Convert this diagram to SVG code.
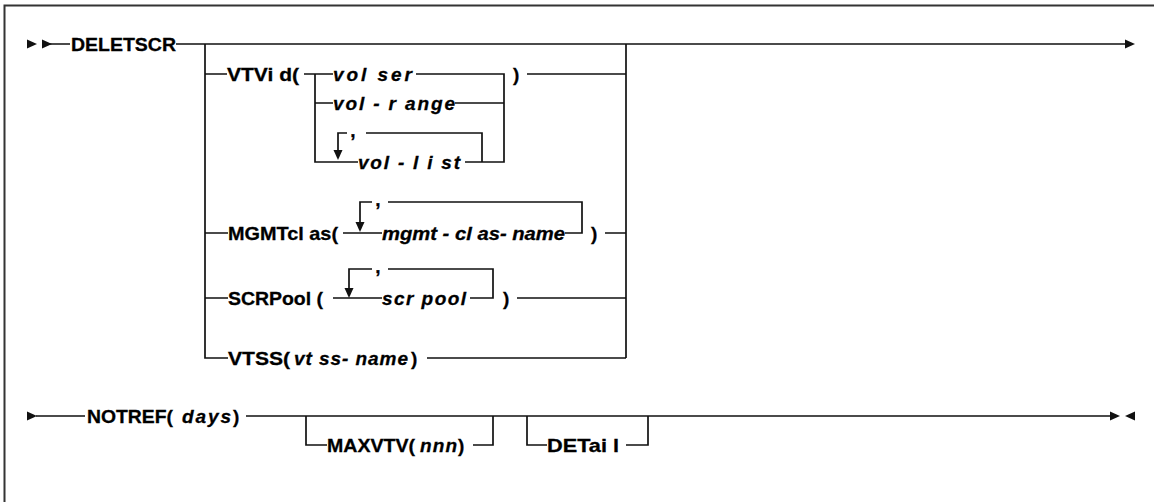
<svg xmlns="http://www.w3.org/2000/svg" xmlns:xlink="http://www.w3.org/1999/xlink" width="1154" height="502" viewBox="0 0 1154 502">
<style>
.ln{fill:none;stroke:#111;stroke-width:1.7}
.bd{fill:none;stroke:#333;stroke-width:2}
.ah{fill:#111;stroke:none}
text{font-family:"Liberation Sans",Arial,sans-serif;font-size:19px;font-weight:bold;fill:#000;stroke:#000;stroke-width:0.3}
.it{font-style:italic}
.cm{text-anchor:middle}
</style>
<defs>
<polygon id="ar" class="ah" points="0,-4.5 10,0 0,4.5"/>
</defs>
<rect width="1154" height="502" fill="#fff"/>
<path class="bd" d="M4.5,510 V5.5 H1160"/>
<g id="connectors">
<use xlink:href="#ar" transform="translate(27,44)"/>
<use xlink:href="#ar" transform="translate(42,44)"/>
<path class="ln" d="M50,44 H70 M176,44 H1126"/>
<use xlink:href="#ar" transform="translate(1125,44)"/>
<path class="ln" d="M205,44 V358 H228 M205,74 H227 M205,233 H228 M205,298 H228"/>
<path class="ln" d="M626,44 V358 M527,74 H626 M605,233 H626 M517,298 H626 M427,358 H626"/>
<path class="ln" d="M304,74 H333 M315,74 V162 H358 M315,103 H333 M416,74 H504 V162 H465 M455,103 H504"/>
<path class="ln" d="M338,152 V133 H347 M366,133 H482 V162"/>
<use xlink:href="#ar" transform="translate(338,150) rotate(90)"/>
<path class="ln" d="M343,233 H382 M360,224 V202 H372 M388,202 H582 V233 H565"/>
<use xlink:href="#ar" transform="translate(360,222) rotate(90)"/>
<path class="ln" d="M333,298 H382 M349,289 V269 H372 M388,269 H493 V298 H470"/>
<use xlink:href="#ar" transform="translate(349,288) rotate(90)"/>
<use xlink:href="#ar" transform="translate(27,416)"/>
<path class="ln" d="M36,416 H85 M246,416 H1111"/>
<use xlink:href="#ar" transform="translate(1110,416)"/>
<use xlink:href="#ar" transform="translate(1135,416) scale(-1,1)"/>
<path class="ln" d="M306,416 V445 H327 M473,445 H493 V416"/>
<path class="ln" d="M527,416 V445 H547 M626,445 H648 V416"/>
</g>
<g id="DELETSCR"><text x="71" y="51" textLength="105" lengthAdjust="spacingAndGlyphs">DELETSCR</text></g>
<g id="VTVid">
<text x="227" y="81" textLength="72" lengthAdjust="spacingAndGlyphs">VTVi d(</text>
<text x="513" y="81">)</text>
</g>
<g id="volser"><text class="it" x="333" y="81" textLength="79" lengthAdjust="spacing">vol ser</text></g>
<g id="vol-range"><text class="it" x="333" y="110" textLength="122" lengthAdjust="spacing">vol - r ange</text></g>
<g id="vol-list">
<text class="cm" x="353" y="137">,</text>
<text class="it" x="358" y="169" textLength="102" lengthAdjust="spacing">vol - l i st</text>
</g>
<g id="MGMTclas">
<text x="228" y="240" textLength="110" lengthAdjust="spacingAndGlyphs">MGMTcl as(</text>
<text class="cm" x="378" y="206">,</text>
<text class="it" x="382" y="240" textLength="183" lengthAdjust="spacingAndGlyphs">mgmt - cl as- name</text>
<text x="591" y="240">)</text>
</g>
<g id="SCRPool">
<text x="228" y="305" textLength="95" lengthAdjust="spacingAndGlyphs">SCRPool (</text>
<text class="cm" x="378" y="273">,</text>
<text class="it" x="382" y="305" textLength="84" lengthAdjust="spacing">scr pool</text>
<text x="503" y="305">)</text>
</g>
<g id="VTSS">
<text x="228" y="365" textLength="62" lengthAdjust="spacingAndGlyphs">VTSS(</text>
<text class="it" x="294" y="365" textLength="114" lengthAdjust="spacing">vt ss- name</text>
<text x="411" y="365">)</text>
</g>
<g id="NOTREF">
<text x="87" y="423" textLength="86" lengthAdjust="spacingAndGlyphs">NOTREF(</text>
<text class="it" x="182" y="423" textLength="49" lengthAdjust="spacing">days</text>
<text x="233" y="423">)</text>
</g>
<g id="MAXVTV">
<text x="327" y="452" textLength="88" lengthAdjust="spacingAndGlyphs">MAXVTV(</text>
<text class="it" x="420" y="452" textLength="37" lengthAdjust="spacing">nnn</text>
<text x="458" y="452">)</text>
</g>
<g id="DETail"><text x="547" y="452" textLength="72" lengthAdjust="spacingAndGlyphs">DETai l</text></g>
</svg>
